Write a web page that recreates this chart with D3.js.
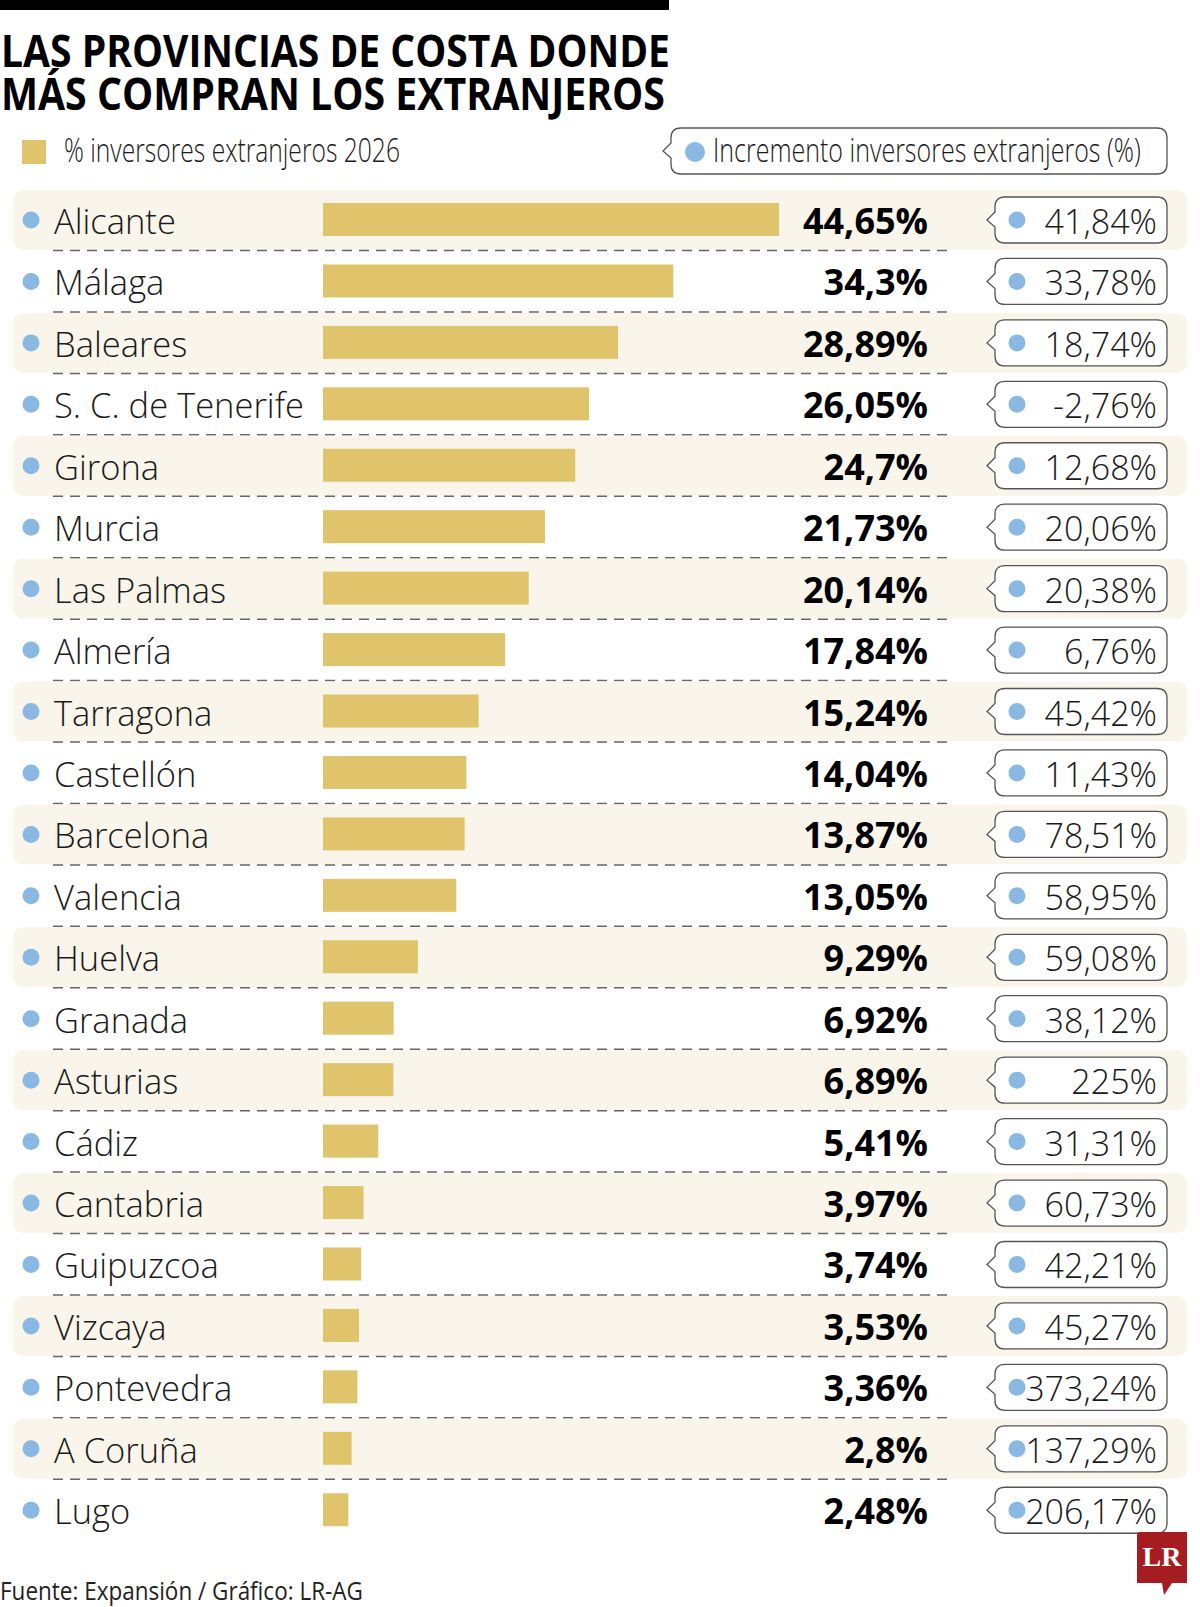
<!DOCTYPE html>
<html>
<head>
<meta charset="utf-8">
<script src="https://cdn.jsdelivr.net/npm/d3@7"></script>
<style>
  body { margin: 0; background: #fff; }
  svg { display: block; }
</style>
</head>
<body>
<div id="chart"></div>
<script>
// data
var provincias = ["Alicante", "Málaga", "Baleares", "S. C. de Tenerife", "Girona", "Murcia",
  "Las Palmas", "Almería", "Tarragona", "Castellón", "Barcelona", "Valencia", "Huelva",
  "Granada", "Asturias", "Cádiz", "Cantabria", "Guipuzcoa", "Vizcaya", "Pontevedra",
  "A Coruña", "Lugo"];
var inversores2026 = [44.65, 34.3, 28.89, 26.05, 24.7, 21.73, 20.14, 17.84, 15.24, 14.04,
  13.87, 13.05, 9.29, 6.92, 6.89, 5.41, 3.97, 3.74, 3.53, 3.36, 2.8, 2.48];
var incremento = [41.84, 33.78, 18.74, -2.76, 12.68, 20.06, 20.38, 6.76, 45.42, 11.43,
  78.51, 58.95, 59.08, 38.12, 225, 31.31, 60.73, 42.21, 45.27, 373.24, 137.29, 206.17];

var titulo = ["LAS PROVINCIAS DE COSTA DONDE", "MÁS COMPRAN LOS EXTRANJEROS"];
var leyenda = ["% inversores extranjeros 2026", "Incremento inversores extranjeros (%)"];
var fuente = "Fuente: Expansión / Gráfico: LR-AG";

var rows = provincias.map(function(p, i) {
  return {name: p, share: inversores2026[i], inc: incremento[i], i: i};
});

var W = 1200, H = 1607;
var gold = "#dfc46b", blue = "#89b8e3", cream = "#f9f5ea", ink = "#1a1a1a";
var sans = "'Open Sans', 'Noto Sans', sans-serif";

var fmt = function(v) { return String(v).replace(".", ",") + "%"; };

var svg = d3.select("#chart")
  .append("svg")
    .attr("width", W)
    .attr("height", H);

// squeeze a text horizontally so it spans w pixels (the original uses a condensed face)
function squeeze(sel, x, y, w) {
  sel.attr("x", 0).attr("y", 0);
  var len = sel.node().getComputedTextLength();
  sel.attr("transform", "translate(" + x + "," + y + ") scale(" + (w / len) + ",1)");
}

// top black rule
svg.append("rect")
  .attr("x", 0).attr("y", 0)
  .attr("width", 669).attr("height", 10)
  .attr("fill", "#000");

// title, two lines in one text block
var title = svg.append("text")
  .style("font-family", sans)
  .style("font-weight", 700)
  .style("font-size", "44px")
  .attr("fill", "#000");

title.selectAll("tspan")
  .data(titulo)
  .enter()
  .append("tspan")
    .attr("x", 1)
    .attr("y", (d, i) => 67 + i * 43)
    .attr("textLength", (d, i) => i == 0 ? 669 : 664)
    .attr("lengthAdjust", "spacingAndGlyphs")
    .text(d => d);

// legend (left)
svg.append("rect")
  .attr("x", 22).attr("y", 140)
  .attr("width", 24).attr("height", 24)
  .attr("fill", gold);

var leg1 = svg.append("text")
  .style("font-family", sans)
  .style("font-weight", 300)
  .style("font-size", "33px")
  .attr("fill", ink)
  .text(leyenda[0]);
squeeze(leg1, 64, 162, 336);

// bubble shape: rounded box with a small pointer on the left
function bubble(x0, x1, cy, h) {
  var r = 10, t = cy - h / 2, b = cy + h / 2;
  return "M" + (x0 + r) + "," + t +
    "H" + (x1 - r) + "Q" + x1 + "," + t + " " + x1 + "," + (t + r) +
    "V" + (b - r) + "Q" + x1 + "," + b + " " + (x1 - r) + "," + b +
    "H" + (x0 + r) + "Q" + x0 + "," + b + " " + x0 + "," + (b - r) +
    "V" + (cy + 7) + "L" + (x0 - 8) + "," + cy + "L" + x0 + "," + (cy - 8) +
    "V" + (t + r) + "Q" + x0 + "," + t + " " + (x0 + r) + "," + t + "Z";
}

// legend (right)
svg.append("path")
  .attr("d", bubble(671, 1167, 151, 46))
  .attr("fill", "#fff")
  .attr("stroke", "#555")
  .attr("stroke-width", 1.3);

svg.append("circle")
  .attr("cx", 695).attr("cy", 152).attr("r", 10)
  .attr("fill", blue);

var leg2 = svg.append("text")
  .style("font-family", sans)
  .style("font-weight", 300)
  .style("font-size", "33px")
  .attr("fill", ink)
  .text(leyenda[1]);
squeeze(leg2, 713, 162, 428);

// scales
var y = d3.scaleBand()
  .domain(provincias)
  .range([190, 190 + provincias.length * 61.44])
  .padding(0);

var x = d3.scaleLinear()
  .domain([0, d3.max(inversores2026)])
  .range([323, 779]);

var row = svg.selectAll("g.row")
  .data(rows)
  .enter()
  .append("g")
    .classed("row", true)
    .attr("transform", d => "translate(0," + y(d.name) + ")");

// alternating cream background
row.filter(d => d.i % 2 == 0)
  .append("rect")
    .attr("x", 13).attr("y", 0)
    .attr("width", 1174).attr("height", 60)
    .attr("rx", 10)
    .attr("fill", cream);

// dashed separators
row.filter(d => d.i < rows.length - 1)
  .append("line")
    .attr("x1", 53).attr("x2", 947)
    .attr("y1", 60.5).attr("y2", 60.5)
    .attr("stroke", "#666")
    .attr("stroke-width", 1.5)
    .attr("stroke-dasharray", "10 7");

row.append("circle")
  .attr("cx", 31).attr("cy", 30).attr("r", 8.5)
  .attr("fill", blue);

row.append("text")
  .attr("x", 54).attr("y", 44)
  .style("font-family", sans)
  .style("font-weight", 300)
  .style("font-size", "34.5px")
  .attr("fill", ink)
  .text(d => d.name);

row.append("rect")
  .attr("x", x(0))
  .attr("y", 13)
  .attr("width", d => x(d.share) - x(0))
  .attr("height", 33)
  .attr("fill", gold);

row.append("text")
  .attr("x", 928).attr("y", 44)
  .attr("text-anchor", "end")
  .style("font-family", sans)
  .style("font-weight", 700)
  .style("font-size", "36px")
  .attr("fill", "#000")
  .text(d => fmt(d.share));

// increment bubbles
row.append("path")
  .attr("d", bubble(995, 1167, 30, 46))
  .attr("fill", "#fff")
  .attr("stroke", "#555")
  .attr("stroke-width", 1.3);

row.append("circle")
  .attr("cx", 1017).attr("cy", 30).attr("r", 8.5)
  .attr("fill", blue);

row.append("text")
  .attr("x", 1157).attr("y", 44)
  .attr("text-anchor", "end")
  .style("font-family", sans)
  .style("font-weight", 300)
  .style("font-size", "34px")
  .attr("fill", ink)
  .text(d => fmt(d.inc));

// footer
var foot = svg.append("text")
  .style("font-family", sans)
  .style("font-size", "26px")
  .attr("fill", "#222")
  .text(fuente);
squeeze(foot, 0, 1600, 363);

// LR logo
var logo = svg.append("g");
logo.append("path")
  .attr("d", "M1140,1532H1187V1583H1172L1164,1595L1162,1583H1137V1535Q1137,1532 1140,1532Z")
  .attr("fill", "#a51d21");
logo.append("text")
  .attr("x", 1162).attr("y", 1566)
  .attr("text-anchor", "middle")
  .style("font-family", "'Liberation Serif', 'DejaVu Serif', serif")
  .style("font-weight", 700)
  .style("font-size", "28px")
  .attr("fill", "#fff")
  .text("LR");
</script>
</body>
</html>
